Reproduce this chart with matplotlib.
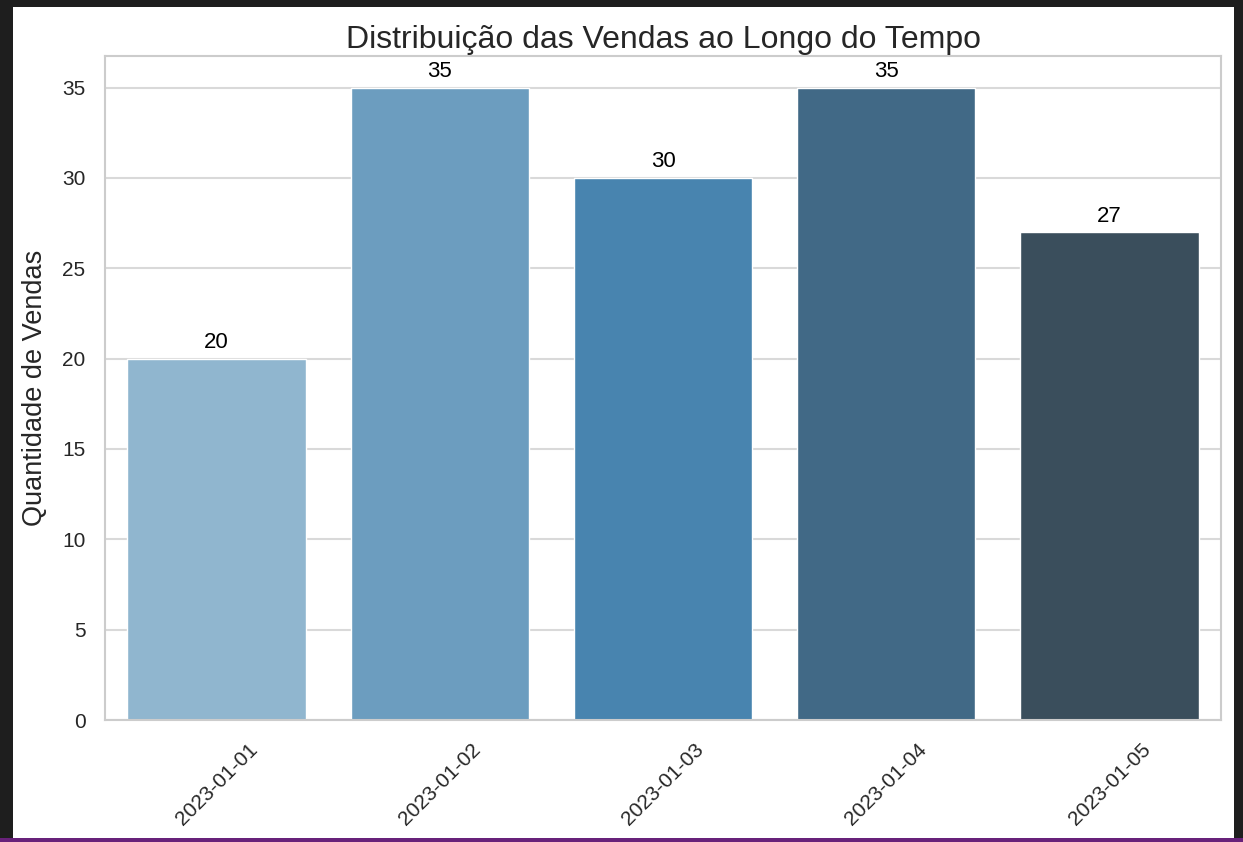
import matplotlib
matplotlib.use("Agg")
import matplotlib.pyplot as plt
import seaborn as sns
from matplotlib.patches import Rectangle

# dados de vendas
datas = ["2023-01-01", "2023-01-02", "2023-01-03", "2023-01-04", "2023-01-05"]
vendas = [20, 35, 30, 35, 27]

sns.set_theme(style="whitegrid")
plt.rcParams['font.family'] = ['Liberation Sans', 'DejaVu Sans']

fig = plt.figure(figsize=(12.43, 8.42), dpi=100)
fig.patch.set_facecolor("#1e1e1e")
# area branca da captura de tela
fig.patches.append(Rectangle((13 / 1243, 4 / 842), 1221 / 1243, 831 / 842,
                             transform=fig.transFigure, facecolor="white",
                             edgecolor="none", zorder=-5))
fig.patches.append(Rectangle((0, 0), 1, 4 / 842, transform=fig.transFigure,
                             facecolor="#68217a", edgecolor="none", zorder=-5))

ax = fig.add_axes([105 / 1243, 122 / 842, 1116 / 1243, 664 / 842])
cores = sns.color_palette("Blues_d", len(datas))
sns.barplot(x=datas, y=vendas, hue=datas, palette=cores, legend=False, ax=ax)

for i, v in enumerate(vendas):
    ax.annotate(str(v), (i, v), xytext=(0, 4), textcoords="offset points",
                ha="center", va="bottom", fontsize=16, color="black")

ax.set_title("Distribuição das Vendas ao Longo do Tempo", fontsize=23, pad=6,
             color="#262626")
ax.set_ylabel("Quantidade de Vendas", fontsize=19.5, color="#262626",
              labelpad=10)
ax.set_xlabel("")
ax.tick_params(axis="both", labelsize=15, colors="#262626", pad=8)
plt.setp(ax.get_xticklabels(), rotation=45)
for s in ax.spines.values():
    s.set_color("#cccccc")
    s.set_linewidth(1.5)
ax.grid(axis="y", color="#d9d9d9", linewidth=1.5)

fig.savefig("out.png", dpi=100, facecolor=fig.get_facecolor())
